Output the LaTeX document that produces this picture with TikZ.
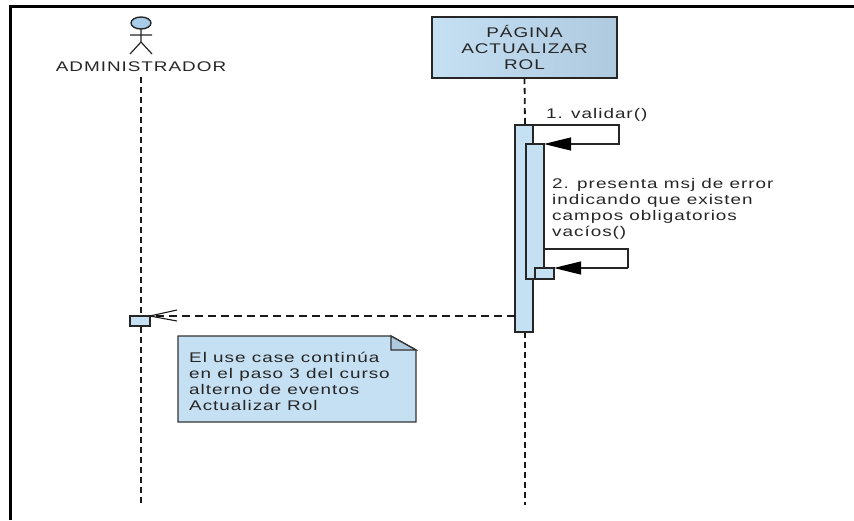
\documentclass[tikz,border=0pt]{standalone}
\usepackage{fontspec}
\setmainfont[FakeStretch=1.35,LetterSpace=7]{Liberation Sans}
\usetikzlibrary{arrows.meta,shapes.geometric}
\definecolor{umlblue}{HTML}{C5DFF3}
\definecolor{umlside}{HTML}{AFC9DF}
\definecolor{umlhead}{HTML}{A9CDE8}
\definecolor{umltext}{HTML}{262626}
\tikzset{
	actbar/.style={draw=black!85, line width=1.6pt, fill=umlblue, inner sep=0pt, outer sep=0pt},
	lifeline/.style={black!90, line width=1.8pt, dash pattern=on 6pt off 4pt},
	selfmsg/.style={black!85, line width=1.2pt, -{Triangle[length=27pt,width=13pt,sep=0pt,fill=black,color=black]}},
	retmsg/.style={black!90, line width=1.1pt, dash pattern=on 8pt off 5pt},
	umllabel/.style={text=umltext, font=\fontsize{14}{16}\selectfont, inner sep=0pt, align=left}
}
\begin{document}
\begin{tikzpicture}

\def\dimpx{1pt}

\begin{scope}[x=\dimpx,y=-\dimpx]
\useasboundingbox (0,0) rectangle (854,520);
\draw[line width=3.2pt] (10.5,520) -- (10.5,6.5) -- (854,6.5);

% actor
\node[draw=black!85, line width=1.4pt, fill=umlhead, ellipse, minimum width=20pt, minimum height=12pt, inner sep=0pt, outer sep=0pt] (head) at (141,23) {};
\coordinate (hip) at (141,42);
\coordinate (armL) at (130,35);
\coordinate (armR) at (152,35);
\coordinate (footL) at (130,54);
\coordinate (footR) at (152,54);
\draw[black!85, line width=1.2pt] (head.south) -- (hip) (armL) -- (armR) (footL) -- (hip) -- (footR);
\node[umllabel, align=center] (admin) at (141,67) {ADMINISTRADOR};

% page box
\node[draw=black!85, line width=1.6pt, left color=umlblue, right color=umlside, minimum width=185pt, minimum height=61pt, inner sep=0pt, outer sep=0pt, umllabel, align=center] (page) at (524.5,47.5) {PÁGINA\\ACTUALIZAR\\ROL};

% lifelines go under the bars
\coordinate (adminEnd) at (141,505);
\coordinate (pageEnd) at (525,505);
\coordinate (adminTop) at (141,77);
\coordinate (act1Top) at (525,125);
\coordinate (act1Bot) at (525,332);
\draw[lifeline] (adminTop) -- (adminEnd);
\draw[lifeline] (page.south) -- (act1Top);
\draw[lifeline] (act1Bot) -- (pageEnd);

\foreach \n/\x/\y/\w/\h in{
	act1/524/228.5/18/207
	,act2/535/211.5/18/135
	,act3/544.5/273.5/19/11
	,actA/140/321/20/10
}{
	\node[actbar, minimum width=\w pt, minimum height=\h pt] (\n) at (\x,\y) {};
}

% messages
\coordinate (turn1) at (619,125);
\coordinate (turn1b) at (619,144);
\coordinate (turn2a) at (628,249);
\coordinate (turn2b) at (628,268);
\draw[selfmsg] (act1.north east) -- (turn1) -- (turn1b) -- (act2.north east);
\draw[black!85, line width=1.2pt] (act2.east |- turn2a) -- (turn2a) -- (turn2b);
\draw[selfmsg] (turn2b) -- (act3.north east);
\node[umllabel, anchor=south west] (msg1) at (546,122) {1. validar()};
\node[umllabel, anchor=north west] (msg2) at (552,178) {2. presenta msj de error\\indicando que existen\\campos obligatorios\\vacíos()};
\draw[retmsg] (act1.west |- actA.north) -- (actA.north east);
\coordinate (barbA) at (177,310);
\coordinate (barbB) at (177,321);
\draw[black!90, line width=1.1pt] (barbA) -- (actA.north east) -- (barbB);

% note
\coordinate (noteA) at (178,336);
\coordinate (noteB) at (391,336);
\coordinate (noteC) at (416,350);
\coordinate (noteD) at (416,422);
\coordinate (noteE) at (178,422);
\coordinate (noteF) at (391,350);
\draw[black!80, line width=1.3pt, fill=umlblue] (noteA) -- (noteB) -- (noteC) -- (noteD) -- (noteE) -- cycle;
\draw[black!80, line width=1.3pt, fill=umlside] (noteB) -- (noteC) -- (noteF) -- cycle;
\node[umllabel, anchor=north west] (notetext) at (189,352) {El use case continúa\\en el paso 3 del curso\\alterno de eventos\\Actualizar Rol};
\end{scope}

\end{tikzpicture}
\end{document}
